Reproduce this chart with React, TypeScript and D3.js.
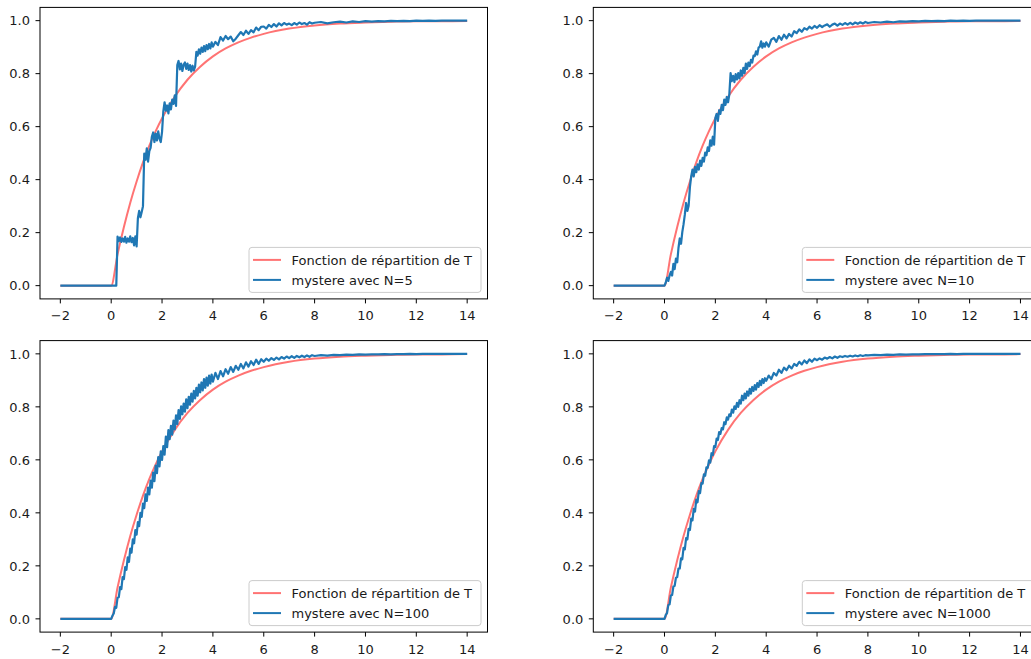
import React from 'react';
import * as d3 from 'd3';

// ---------- data ----------
const X_TICKS = [-2, 0, 2, 4, 6, 8, 10, 12, 14];
const Y_TICKS = [0, 0.2, 0.4, 0.6, 0.8, 1.0];
const SAMPLE_COUNTS = [5, 10, 100, 1000];
const LEGEND_RED = 'Fonction de répartition de T';
const LEGEND_BLUE_PREFIX = 'mystere avec N=';

// red curve (theoretical CDF)
const redX = [-2, 0, 0.25, 0.5, 0.75, 1, 1.25, 1.5, 1.75, 2, 2.5, 3, 3.5, 4, 4.5, 5, 5.5, 6, 7, 8, 9, 10, 11, 12, 13, 14];
const redY = [0, 0, 0.118, 0.221, 0.313, 0.393, 0.465, 0.528, 0.583, 0.632, 0.713, 0.777, 0.826, 0.865, 0.895, 0.918, 0.936, 0.95, 0.97, 0.982, 0.989, 0.993, 0.996, 0.998, 0.998, 0.999];

// sampling positions of the blue curves: -2, then 0..3.95 by 0.05, 4..7.9 by 0.1, 8..14 by 0.25
const blueX = [
  -2,
  ...d3.range(80).map((i) => i / 20),
  ...d3.range(40).map((i) => 4 + i / 10),
  ...d3.range(25).map((i) => 8 + i / 4),
];

const blueN5 = [
  0,
  0, 0, 0, 0, 0, 0.185, 0.168, 0.182, 0.165, 0.178,
  0.166, 0.184, 0.162, 0.178, 0.166, 0.186, 0.164, 0.18, 0.152, 0.186,
  0.148, 0.255, 0.282, 0.258, 0.278, 0.3, 0.498, 0.475, 0.518, 0.468,
  0.508, 0.52, 0.562, 0.578, 0.542, 0.574, 0.548, 0.582, 0.555, 0.542,
  0.58, 0.658, 0.692, 0.66, 0.68, 0.65, 0.688, 0.665, 0.702, 0.686,
  0.718, 0.678, 0.832, 0.848, 0.816, 0.838, 0.81, 0.834, 0.842, 0.818,
  0.838, 0.814, 0.832, 0.808, 0.83, 0.812, 0.826, 0.882, 0.868, 0.892,
  0.875, 0.898, 0.882, 0.904, 0.885, 0.908, 0.892, 0.912, 0.895, 0.918,
  0.902, 0.92, 0.908, 0.938, 0.925, 0.942, 0.93, 0.94, 0.922, 0.932,
  0.945, 0.957, 0.946, 0.962, 0.95, 0.964, 0.956, 0.974, 0.964, 0.977,
  0.978, 0.97, 0.984, 0.976, 0.987, 0.978, 0.99, 0.982, 0.991, 0.985,
  0.989, 0.983, 0.991, 0.985, 0.993, 0.987, 0.991, 0.985, 0.994, 0.989,
  0.992, 0.995, 0.99, 0.994, 0.996, 0.993, 0.997, 0.995, 0.998, 0.996,
  0.998, 0.997, 0.999, 0.998, 0.999, 0.998, 1.0, 0.999, 1.0, 0.999,
  1.0, 1.0, 1.0, 1.0, 1.0,
];

const blueN10 = [
  0,
  0, 0.012, 0.03, 0.018, 0.038, 0.052, 0.038, 0.082, 0.062, 0.102,
  0.088, 0.142, 0.178, 0.158, 0.202, 0.232, 0.268, 0.312, 0.282, 0.302,
  0.372, 0.412, 0.438, 0.412, 0.448, 0.428, 0.458, 0.438, 0.472, 0.452,
  0.482, 0.468, 0.502, 0.492, 0.522, 0.508, 0.548, 0.528, 0.562, 0.532,
  0.632, 0.648, 0.622, 0.662, 0.648, 0.682, 0.662, 0.702, 0.682, 0.712,
  0.692, 0.722, 0.802, 0.772, 0.792, 0.768, 0.798, 0.778, 0.802, 0.782,
  0.812, 0.792, 0.822, 0.802, 0.838, 0.818, 0.842, 0.828, 0.852, 0.842,
  0.868, 0.866, 0.884, 0.872, 0.898, 0.902, 0.922, 0.898, 0.914, 0.902,
  0.918, 0.902, 0.928, 0.935, 0.92, 0.942, 0.928, 0.947, 0.933, 0.95,
  0.94, 0.96, 0.953, 0.967, 0.958, 0.972, 0.966, 0.977, 0.97, 0.98,
  0.973, 0.983, 0.976, 0.982, 0.986, 0.977, 0.985, 0.989, 0.981, 0.989,
  0.984, 0.991, 0.985, 0.992, 0.986, 0.993, 0.988, 0.994, 0.989, 0.995,
  0.991, 0.995, 0.993, 0.996, 0.994, 0.997, 0.996, 0.998, 0.997, 0.999,
  0.998, 0.999, 0.998, 1.0, 0.999, 1.0, 0.999, 1.0, 1.0, 1.0,
  1.0, 1.0, 1.0, 1.0, 1.0,
];

const blueN100 = [
  0,
  0, 0.012, 0.02, 0.045, 0.042, 0.08, 0.082, 0.12, 0.112, 0.158,
  0.15, 0.195, 0.185, 0.232, 0.215, 0.265, 0.25, 0.3, 0.285, 0.335,
  0.318, 0.365, 0.35, 0.4, 0.385, 0.435, 0.418, 0.47, 0.445, 0.495,
  0.47, 0.522, 0.495, 0.552, 0.52, 0.578, 0.55, 0.61, 0.575, 0.632,
  0.6, 0.652, 0.62, 0.688, 0.648, 0.712, 0.678, 0.728, 0.695, 0.748,
  0.715, 0.768, 0.735, 0.788, 0.755, 0.802, 0.772, 0.812, 0.782, 0.828,
  0.795, 0.838, 0.808, 0.85, 0.82, 0.86, 0.832, 0.872, 0.842, 0.884,
  0.855, 0.892, 0.862, 0.905, 0.872, 0.91, 0.88, 0.918, 0.888, 0.922,
  0.895, 0.928, 0.905, 0.935, 0.915, 0.942, 0.925, 0.95, 0.932, 0.955,
  0.94, 0.962, 0.945, 0.968, 0.952, 0.972, 0.958, 0.978, 0.962, 0.98,
  0.97, 0.982, 0.974, 0.984, 0.977, 0.986, 0.979, 0.988, 0.982, 0.99,
  0.984, 0.991, 0.985, 0.992, 0.987, 0.993, 0.988, 0.994, 0.989, 0.995,
  0.992, 0.995, 0.993, 0.996, 0.995, 0.997, 0.996, 0.998, 0.997, 0.998,
  0.998, 0.999, 0.998, 0.999, 0.999, 1.0, 0.999, 1.0, 1.0, 1.0,
  1.0, 1.0, 1.0, 1.0, 1.0,
];

const blueN1000 = [
  0,
  0, 0.015, 0.022, 0.052, 0.055, 0.088, 0.09, 0.122, 0.125, 0.155,
  0.158, 0.19, 0.19, 0.228, 0.225, 0.268, 0.262, 0.305, 0.3, 0.34,
  0.335, 0.378, 0.372, 0.415, 0.405, 0.45, 0.44, 0.482, 0.475, 0.512,
  0.51, 0.545, 0.54, 0.572, 0.57, 0.598, 0.59, 0.625, 0.618, 0.652,
  0.648, 0.68, 0.675, 0.705, 0.698, 0.72, 0.715, 0.742, 0.735, 0.76,
  0.752, 0.772, 0.765, 0.79, 0.778, 0.802, 0.792, 0.815, 0.8, 0.825,
  0.812, 0.842, 0.825, 0.85, 0.832, 0.858, 0.842, 0.868, 0.85, 0.875,
  0.86, 0.882, 0.865, 0.89, 0.875, 0.898, 0.882, 0.905, 0.89, 0.908,
  0.898, 0.918, 0.905, 0.928, 0.918, 0.94, 0.928, 0.948, 0.938, 0.955,
  0.945, 0.962, 0.955, 0.97, 0.96, 0.975, 0.965, 0.979, 0.97, 0.982,
  0.976, 0.983, 0.978, 0.986, 0.982, 0.988, 0.983, 0.99, 0.985, 0.991,
  0.988, 0.992, 0.989, 0.993, 0.99, 0.994, 0.991, 0.995, 0.992, 0.995,
  0.994, 0.996, 0.995, 0.997, 0.996, 0.998, 0.997, 0.998, 0.998, 0.999,
  0.999, 0.999, 0.999, 1.0, 0.999, 1.0, 1.0, 1.0, 1.0, 1.0,
  1.0, 1.0, 1.0, 1.0, 1.0,
];

const BLUE_SERIES = [blueN5, blueN10, blueN100, blueN1000];

// ---------- layout ----------
const W = 1031;
const H = 659;
const AX_W = 447.5;
const AX_H = 291.5;
const PANEL_POS = [
  { left: 40, top: 7.4 },
  { left: 593.3, top: 7.4 },
  { left: 40, top: 340.6 },
  { left: 593.3, top: 340.6 },
];
const FONT = '"DejaVu Sans", sans-serif';
const FS = 13;
const RED = '#ff0000';
const BLUE = '#1f77b4';
const TEXT = '#1a1a1a';

const fmtTick = (v: number) => (v < 0 ? '\u2212' + Math.abs(v) : String(v));

function Panel({ left, top, ys, n }: { left: number; top: number; ys: number[]; n: number }) {
  const x = d3.scaleLinear().domain([-2.8, 14.8]).range([left, left + AX_W]);
  const y = d3.scaleLinear().domain([-0.05, 1.05]).range([top + AX_H, top]);
  const line = d3
    .line<[number, number]>()
    .x((d) => x(d[0]))
    .y((d) => y(d[1]));
  const redPts = redX.map((v, i) => [v, redY[i]] as [number, number]);
  const len = Math.min(blueX.length, ys.length);
  const bluePts = d3.range(len).map((i) => [blueX[i], ys[i]] as [number, number]);
  const right = left + AX_W;
  const bottom = top + AX_H;
  const legW = 232;
  const legH = 45;
  const legL = right - 6.5 - legW;
  const legT = bottom - 6.5 - legH;
  return (
    <g>
      <path d={line.curve(d3.curveMonotoneX)(redPts) || ''} fill="none" stroke={RED} strokeOpacity={0.55} strokeWidth={2} />
      <path d={line.curve(d3.curveLinear)(bluePts) || ''} fill="none" stroke={BLUE} strokeWidth={2.2} strokeLinejoin="round" />
      <rect x={left} y={top} width={AX_W} height={AX_H} fill="none" stroke="#000" strokeWidth={1} />
      {X_TICKS.map((t) => (
        <g key={'x' + t}>
          <line x1={x(t)} x2={x(t)} y1={bottom} y2={bottom + 4.5} stroke="#000" strokeWidth={1} />
          <text x={x(t)} y={bottom + 21.5} textAnchor="middle" fontFamily={FONT} fontSize={FS} fill={TEXT}>
            {fmtTick(t)}
          </text>
        </g>
      ))}
      {Y_TICKS.map((t) => (
        <g key={'y' + t}>
          <line x1={left - 4.5} x2={left} y1={y(t)} y2={y(t)} stroke="#000" strokeWidth={1} />
          <text x={left - 10} y={y(t)} dy="0.36em" textAnchor="end" fontFamily={FONT} fontSize={FS} fill={TEXT}>
            {t.toFixed(1)}
          </text>
        </g>
      ))}
      <g>
        <rect x={legL} y={legT} width={legW} height={legH} rx={3} ry={3} fill="#fff" fillOpacity={0.8} stroke="#cccccc" strokeWidth={1} />
        <line x1={legL + 4} x2={legL + 32} y1={legT + 12.5} y2={legT + 12.5} stroke={RED} strokeOpacity={0.55} strokeWidth={2} />
        <text x={legL + 42.5} y={legT + 12.5} dy="0.36em" fontFamily={FONT} fontSize={FS} fill={TEXT}>
          {LEGEND_RED}
        </text>
        <line x1={legL + 4} x2={legL + 32} y1={legT + 32.5} y2={legT + 32.5} stroke={BLUE} strokeWidth={2} />
        <text x={legL + 42.5} y={legT + 32.5} dy="0.36em" fontFamily={FONT} fontSize={FS} fill={TEXT}>
          {LEGEND_BLUE_PREFIX + n}
        </text>
      </g>
    </g>
  );
}

export default function App() {
  return (
    <div style={{ position: 'absolute', left: 0, top: 0, width: W, height: H, overflow: 'hidden', background: '#fff' }}>
      <svg width={W} height={H} viewBox={`0 0 ${W} ${H}`} style={{ display: 'block' }}>
        <rect x={0} y={0} width={W} height={H} fill="#fff" />
        {PANEL_POS.map((p, i) => (
          <Panel key={i} left={p.left} top={p.top} ys={BLUE_SERIES[i]} n={SAMPLE_COUNTS[i]} />
        ))}
      </svg>
    </div>
  );
}
